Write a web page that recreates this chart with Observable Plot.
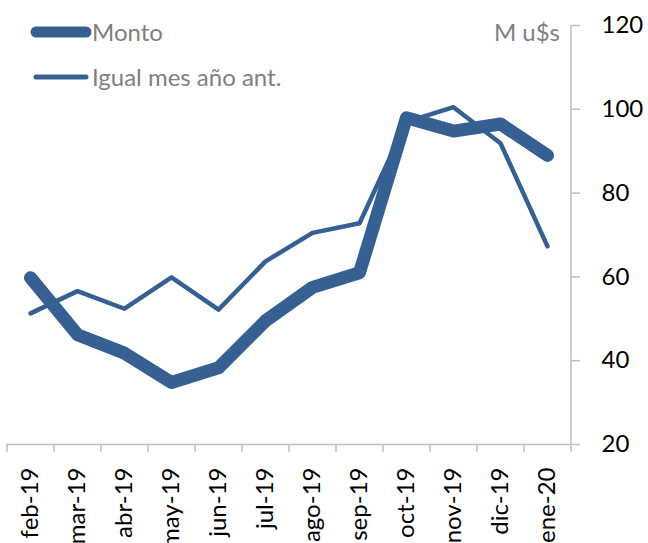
<!DOCTYPE html>
<html>
<head>
<meta charset="utf-8">
<script src="https://cdn.jsdelivr.net/npm/d3@7"></script>
<script src="https://cdn.jsdelivr.net/npm/@observablehq/plot@0.6"></script>
<style>
  body { margin: 0; background: #fff; }
  #wrap { position: relative; width: 648px; height: 543px; font-family: Lato, "Open Sans", sans-serif; }
  #legend { position: absolute; left: 0; top: 0; pointer-events: none; }
</style>
</head>
<body>
<div id="wrap"></div>
<script>
// ---- data ----
const months = ["feb-19","mar-19","abr-19","may-19","jun-19","jul-19","ago-19","sep-19","oct-19","nov-19","dic-19","ene-20"];
const monto = [59.8, 46.2, 41.8, 34.8, 38.3, 49.5, 57.5, 61.0, 98.0, 94.8, 96.5, 89.0];
const igualMesAnoAnt = [51.3, 56.6, 52.4, 59.9, 52.2, 63.7, 70.5, 72.8, 97.0, 100.5, 91.9, 67.3];
const yTicks = [20, 40, 60, 80, 100, 120];
const seriesNames = ["Monto", "Igual mes año ant."];
const unitLabel = "M u$s";

// ---- styling ----
const lineColor = "#366092";
const axisColor = "#bfbfbf";
const grayText = "#7f7f7f";
const step = 47; // band step in px

const rows = months.map((m, i) => ({month: m, monto: monto[i], igual: igualMesAnoAnt[i]}));

const plot = Plot.plot({
  width: 648,
  height: 543,
  marginLeft: 6,
  marginRight: 78,
  marginTop: 25,
  marginBottom: 99,
  style: {fontFamily: "Lato, 'Open Sans', sans-serif", fontSize: "24px", color: "#000", background: "#fff", overflow: "visible"},
  x: {type: "point", domain: months, padding: 0.5, axis: null, label: null},
  y: {domain: [20, 120], axis: null, label: null},
  marks: [
    Plot.ruleY([20], {stroke: axisColor, strokeWidth: 1.5}),
    Plot.ruleX([months[months.length - 1]], {dx: step / 2, stroke: axisColor, strokeWidth: 1.5}),
    Plot.axisX(months, {tickSize: 8, tickFormat: () => "", label: null, dx: -step / 2, stroke: axisColor, strokeWidth: 1.5}),
    Plot.axisX([months[months.length - 1]], {tickSize: 8, tickFormat: () => "", label: null, dx: step / 2, stroke: axisColor, strokeWidth: 1.5}),
    Plot.axisX(months, {tickSize: 0, tickRotate: -90, tickPadding: 23, label: null, fill: "#000", fontSize: 24}),
    Plot.axisY(yTicks, {anchor: "right", tickSize: 9, tickPadding: 22, label: null, stroke: axisColor, strokeWidth: 1.5, fill: "#000", fontSize: 24}),
    Plot.line(rows, {x: "month", y: "monto", stroke: lineColor, strokeWidth: 13, strokeLinecap: "round", strokeLinejoin: "round"}),
    Plot.line(rows, {x: "month", y: "igual", stroke: lineColor, strokeWidth: 4.5, strokeLinecap: "round", strokeLinejoin: "round"})
  ]
});

const wrap = document.getElementById("wrap");
wrap.appendChild(plot);

// ---- legend & unit label (overlay) ----
const svgNS = "http://www.w3.org/2000/svg";
const leg = document.createElementNS(svgNS, "svg");
leg.setAttribute("id", "legend");
leg.setAttribute("width", 648);
leg.setAttribute("height", 110);
const legendItems = [
  {name: seriesNames[0], width: 11, x1: 36, x2: 86, y: 32},
  {name: seriesNames[1], width: 5, x1: 36, x2: 86, y: 77}
];
for (const it of legendItems) {
  const l = document.createElementNS(svgNS, "line");
  l.setAttribute("x1", it.x1); l.setAttribute("x2", it.x2);
  l.setAttribute("y1", it.y); l.setAttribute("y2", it.y);
  l.setAttribute("stroke", lineColor);
  l.setAttribute("stroke-width", it.width);
  l.setAttribute("stroke-linecap", "round");
  leg.appendChild(l);
  const t = document.createElementNS(svgNS, "text");
  t.setAttribute("x", 92); t.setAttribute("y", it.y + 9);
  t.setAttribute("fill", grayText);
  t.setAttribute("font-size", 24);
  t.setAttribute("font-family", "Lato, 'Open Sans', sans-serif");
  t.textContent = it.name;
  leg.appendChild(t);
}
const u = document.createElementNS(svgNS, "text");
u.setAttribute("x", 560); u.setAttribute("y", 41);
u.setAttribute("text-anchor", "end");
u.setAttribute("fill", grayText);
u.setAttribute("font-size", 24);
u.setAttribute("font-family", "Lato, 'Open Sans', sans-serif");
u.textContent = unitLabel;
leg.appendChild(u);
wrap.appendChild(leg);
</script>
</body>
</html>
